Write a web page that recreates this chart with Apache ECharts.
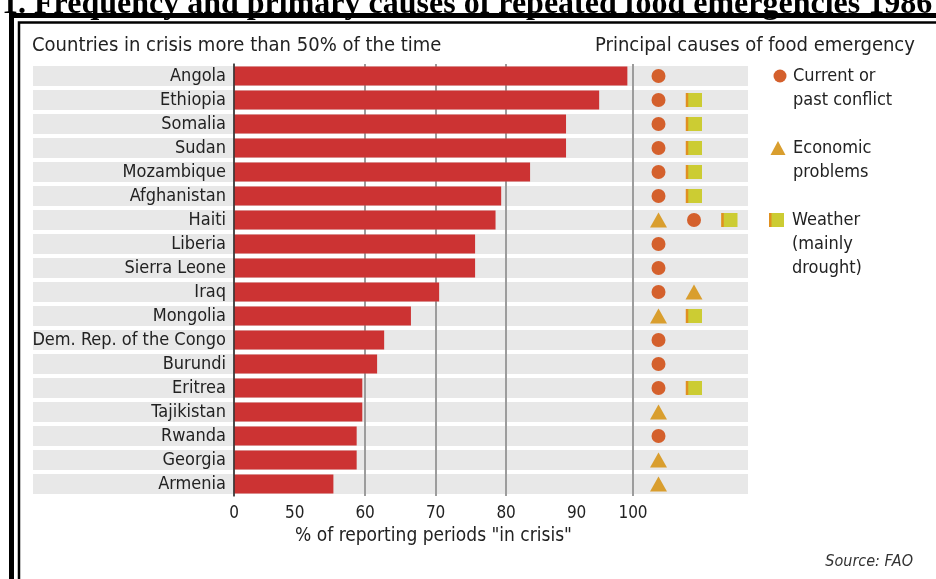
<!DOCTYPE html>
<html>
<head>
<meta charset="utf-8">
<title>Repeated food emergencies</title>
<script src="https://cdn.jsdelivr.net/npm/echarts@6.0.0/dist/echarts.min.js"></script>
<style>
  html, body { margin: 0; padding: 0; background: #fff; overflow: hidden; }
  #chart { width: 936px; height: 579px; }
</style>
</head>
<body>
<div id="chart"></div>
<script>
// countries in crisis more than 50% of the time (top to bottom)
const countries = [
  "Angola", "Ethiopia", "Somalia", "Sudan", "Mozambique", "Afghanistan",
  "Haiti", "Liberia", "Sierra Leone", "Iraq", "Mongolia",
  "Dem. Rep. of the Congo", "Burundi", "Eritrea", "Tajikistan", "Rwanda",
  "Georgia", "Armenia"
];
// % of reporting periods "in crisis"
const crisisShare = [
  99, 94, 88.5, 88.5, 83.4, 79.3, 78.5, 75.6, 75.6, 70.5, 66.5,
  62.7, 61.7, 59.6, 59.6, 58.8, 58.8, 55.5
];
// principal causes, in the order they are shown for each country
const causes = [
  ["conflict"],
  ["conflict", "weather"],
  ["conflict", "weather"],
  ["conflict", "weather"],
  ["conflict", "weather"],
  ["conflict", "weather"],
  ["economic", "conflict", "weather"],
  ["conflict"],
  ["conflict"],
  ["conflict", "economic"],
  ["economic", "weather"],
  ["conflict"],
  ["conflict"],
  ["conflict", "weather"],
  ["economic"],
  ["conflict"],
  ["economic"],
  ["economic"]
];
const xTicks = [0, 50, 60, 70, 80, 90, 100];

const FONT = '"DejaVu Sans Condensed", "DejaVu Sans", sans-serif';
const TEXT = "#222";
const RED = "#cc3333";
const BAND = "#e8e8e8";
const C_CONFLICT = "#d4602c";
const C_ECON = "#d99e2e";
const C_WEATHER = "#cccc33";
const C_STRIPE = "#e09020";

/** scatter points for one cause: x = column the marker sits in */
function causePoints(kind) {
  const pts = [];
  causes.forEach((list, i) => {
    const col = list.indexOf(kind);
    if (col >= 0) pts.push([col + 1, countries[i]]);
  });
  return pts;
}

const chart = echarts.init(document.getElementById("chart"), null, { renderer: "canvas" });

chart.setOption({
  animation: false,
  textStyle: { fontFamily: FONT },
  grid: [
    { left: 234, right: 303, top: 64, bottom: 83 }, // bars
    { left: 33, right: 188, top: 64, bottom: 83 },  // grey row bands
    { left: 623, right: 171, top: 64, bottom: 83 }  // cause markers
  ],
  xAxis: [
    {
      gridIndex: 0,
      type: "value",
      min: 0,
      max: 100,
      interval: 10,
      z: 1,
      breaks: [
        { start: 0, end: 50, gap: 8.6 },
        { start: 90, end: 100, gap: 8 }
      ],
      breakArea: { show: false },
      axisLine: { show: false },
      axisTick: { show: false },
      axisLabel: {
        fontSize: 17,
        color: TEXT,
        fontFamily: FONT,
        margin: 9,
        formatter: v => (xTicks.indexOf(v) >= 0 ? String(v) : "")
      },
      splitLine: { show: true, lineStyle: { color: "#9c9c9c", width: 2 } },
      name: '% of reporting periods "in crisis"',
      nameLocation: "middle",
      nameGap: 27,
      nameTextStyle: { fontSize: 19, color: TEXT, fontFamily: FONT }
    },
    { gridIndex: 1, type: "value", min: 0, max: 1, show: false },
    { gridIndex: 2, type: "value", min: 0, max: 4, show: false }
  ],
  yAxis: [
    {
      gridIndex: 0,
      type: "category",
      data: countries,
      inverse: true,
      z: 3,
      axisLine: { show: true, lineStyle: { color: "#333", width: 1.5 } },
      axisTick: { show: false },
      axisLabel: { fontSize: 18, color: TEXT, fontFamily: FONT, margin: 8 },
      splitLine: { show: false }
    },
    { gridIndex: 1, type: "category", data: countries, inverse: true, show: false },
    { gridIndex: 2, type: "category", data: countries, inverse: true, show: false }
  ],
  series: [
    {
      name: "band",
      type: "bar",
      xAxisIndex: 1,
      yAxisIndex: 1,
      data: countries.map(() => 1),
      barWidth: 20,
      itemStyle: { color: BAND },
      silent: true,
      z: 0
    },
    {
      name: "In crisis",
      type: "bar",
      xAxisIndex: 0,
      yAxisIndex: 0,
      data: crisisShare,
      barWidth: 19,
      itemStyle: { color: RED },
      z: 2
    },
    {
      name: "Current or past conflict",
      type: "scatter",
      xAxisIndex: 2,
      yAxisIndex: 2,
      data: causePoints("conflict"),
      symbol: "circle",
      symbolSize: 14,
      itemStyle: { color: C_CONFLICT, opacity: 1 }
    },
    {
      name: "Economic problems",
      type: "scatter",
      xAxisIndex: 2,
      yAxisIndex: 2,
      data: causePoints("economic"),
      symbol: "triangle",
      symbolSize: [17, 15],
      itemStyle: { color: C_ECON, opacity: 1 }
    },
    {
      name: "Weather",
      type: "scatter",
      xAxisIndex: 2,
      yAxisIndex: 2,
      data: causePoints("weather"),
      symbol: "rect",
      symbolSize: [16, 14],
      itemStyle: { color: C_WEATHER, opacity: 1 }
    },
    {
      name: "Weather edge",
      type: "scatter",
      xAxisIndex: 2,
      yAxisIndex: 2,
      data: causePoints("weather"),
      symbol: "rect",
      symbolSize: [2.5, 14],
      symbolOffset: [-7, 0],
      itemStyle: { color: C_STRIPE, opacity: 1 },
      z: 3
    }
  ],
  graphic: [
    // title, cut off at the top like the scan
    {
      type: "text", x: 2, y: 5,
      style: {
        text: "1. Frequency and primary causes of repeated food emergencies 1986",
        font: 'bold 32px "Liberation Serif", serif',
        fill: "#000", verticalAlign: "middle"
      }
    },
    // double frame
    {
      type: "rect", shape: { x: 11.5, y: 15.5, width: 1200, height: 900 },
      style: { fill: null, stroke: "#000", lineWidth: 5 }
    },
    {
      type: "rect", shape: { x: 19, y: 22.5, width: 1200, height: 900 },
      style: { fill: null, stroke: "#000", lineWidth: 2.5 }
    },
    {
      type: "text", x: 32, y: 46,
      style: { text: "Countries in crisis more than 50% of the time", font: "20px " + FONT, fill: TEXT, verticalAlign: "middle" }
    },
    {
      type: "text", x: 595, y: 46,
      style: { text: "Principal causes of food emergency", font: "20px " + FONT, fill: TEXT, verticalAlign: "middle" }
    },
    // legend
    { type: "circle", shape: { cx: 780, cy: 76, r: 6.5 }, style: { fill: C_CONFLICT } },
    {
      type: "text", x: 793, y: 64,
      style: { text: "Current or\npast conflict", font: "18px " + FONT, lineHeight: 24, fill: TEXT, verticalAlign: "top" }
    },
    { type: "polygon", shape: { points: [[770.5, 155], [785.5, 155], [778, 141]] }, style: { fill: C_ECON } },
    {
      type: "text", x: 793, y: 136,
      style: { text: "Economic\nproblems", font: "18px " + FONT, lineHeight: 24, fill: TEXT, verticalAlign: "top" }
    },
    { type: "rect", shape: { x: 769, y: 213, width: 15, height: 14 }, style: { fill: C_WEATHER } },
    { type: "rect", shape: { x: 769, y: 213, width: 2.5, height: 14 }, style: { fill: C_STRIPE } },
    {
      type: "text", x: 792, y: 208,
      style: { text: "Weather\n(mainly\ndrought)", font: "18px " + FONT, lineHeight: 24, fill: TEXT, verticalAlign: "top" }
    },
    {
      type: "text", x: 913, y: 562,
      style: { text: "Source: FAO", font: "italic 16px " + FONT, fill: "#333", align: "right", verticalAlign: "middle" }
    }
  ]
});
</script>
</body>
</html>
